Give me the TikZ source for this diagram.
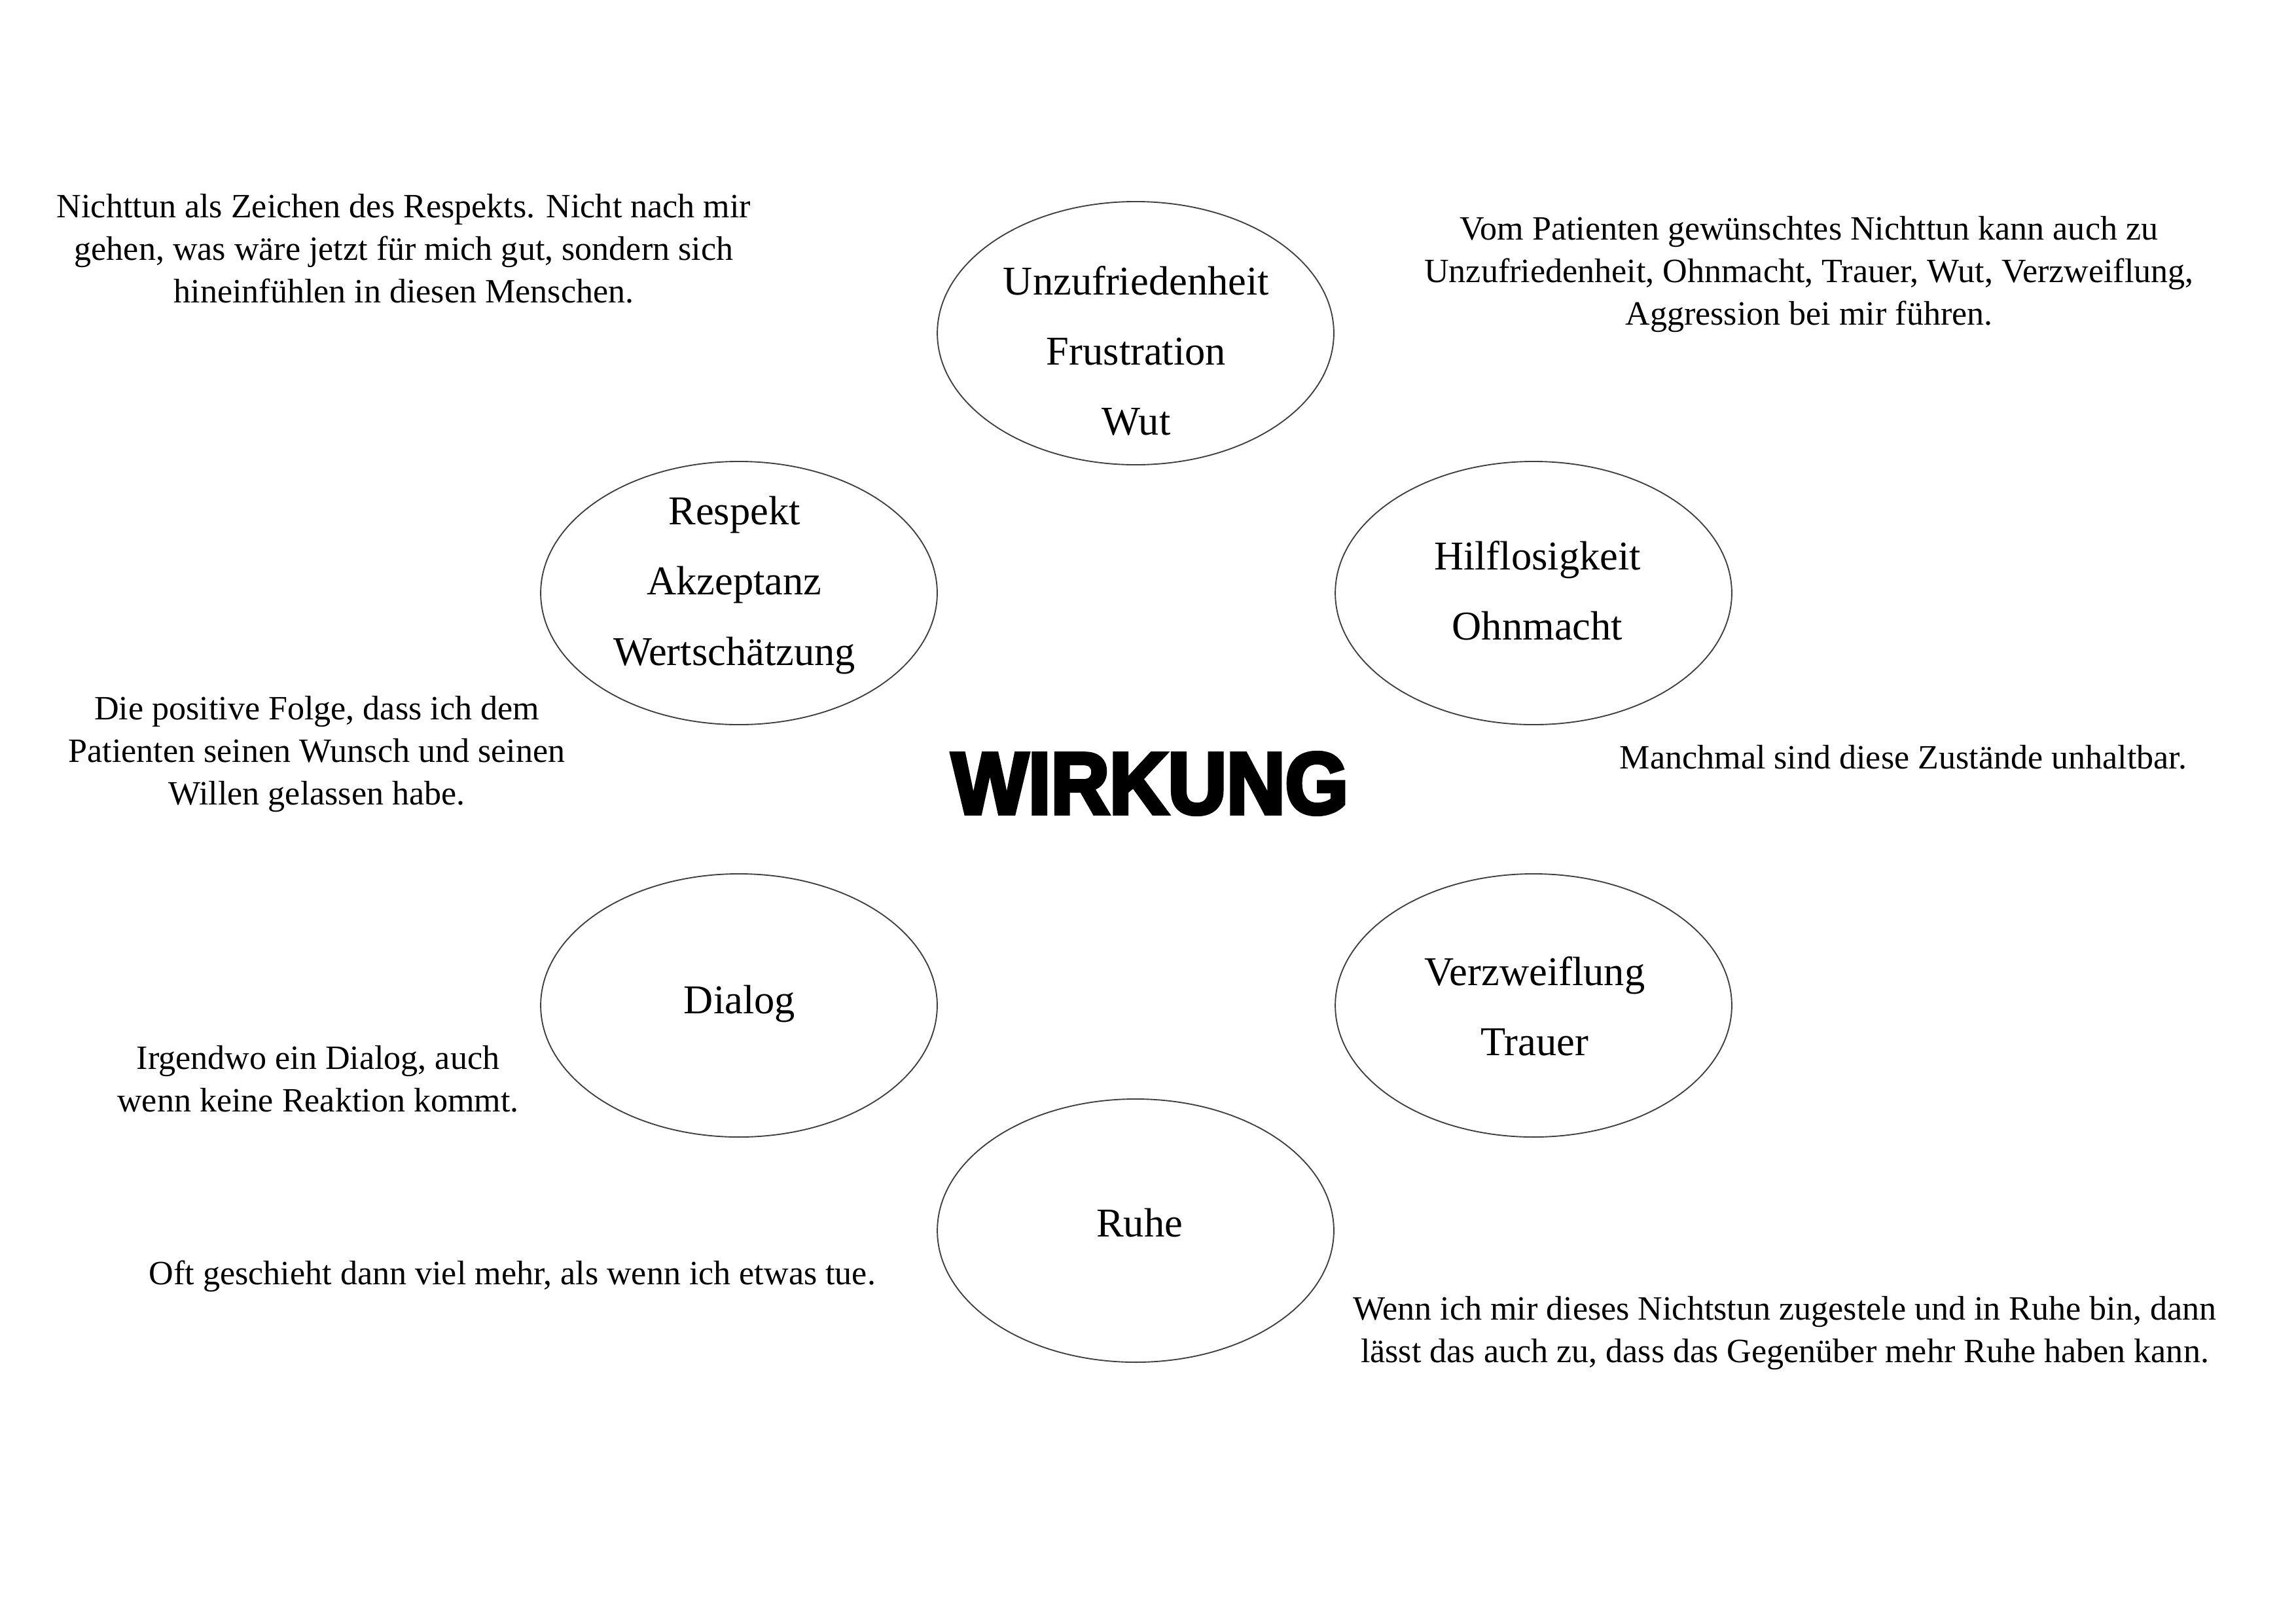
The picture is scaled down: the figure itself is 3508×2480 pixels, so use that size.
\documentclass[tikz,border=0pt]{standalone}
\usepackage{fontspec}
\setmainfont{Liberation Serif}
\newfontfamily\wirkfont[FakeStretch=0.93,FakeBold=4.5]{Liberation Sans Bold}
\usetikzlibrary{shapes.geometric}
\tikzset{
  bubble/.style={ellipse, draw=black!75, line width=0.45pt,
    minimum width=145.4pt, minimum height=96.5pt, inner sep=0pt},
  bubbletext/.style={align=center, inner sep=0pt,
    font=\fontsize{15}{25.7}\selectfont},
  note/.style={align=center, inner sep=0pt,
    font=\fontsize{12.5}{15.6}\selectfont},
  title/.style={inner sep=0pt, font=\wirkfont\fontsize{32}{34}\selectfont}
}
\begin{document}
\begin{tikzpicture}[x=0.24pt,y=-0.24pt]
\fill[white] (0,0) rectangle (3508,2480);
\useasboundingbox (0,0) rectangle (3508,2480);

% ellipses
\node[bubble] (e1) at (1735,509) {};
\node[bubble] (e2) at (1129,906) {};
\node[bubble] (e3) at (2343,906) {};
\node[bubble] (e4) at (1129,1536) {};
\node[bubble] (e5) at (2343,1536) {};
\node[bubble] (e6) at (1735,1880) {};

% ellipse texts
\node[bubbletext] (t1) at (1736,536) {Unzufriedenheit\\Frustration\\Wut};
\node[bubbletext] (t2) at (1122,894) {Respekt\\Akzeptanz\\Wertschätzung};
\node[bubbletext] (t3) at (2349,902) {Hilflosigkeit\\Ohnmacht};
\node[bubbletext] (t4) at (1130,1534) {Dialog};
\node[bubbletext] (t5) at (2345,1537) {Verzweiflung\\Trauer};
\node[bubbletext] (t6) at (1741,1868) {Ruhe};

% title
\node[title] (w) at (1757,1197) {WIRKUNG};

% notes
\node[note] (n1) at (617,380) {Nichttun als Zeichen des Respekts. Nicht nach mir\\gehen, was wäre jetzt für mich gut, sondern sich\\hineinfühlen in diesen Menschen.};
\node[note] (n2) at (2764,419) {Vom Patienten gewünschtes Nichttun kann auch zu\\Unzufriedenheit, Ohnmacht, Trauer, Wut, Verzweiflung,\\Aggression bei mir führen.};
\node[note] (n3) at (484,1152) {Die positive Folge, dass ich dem\\Patienten seinen Wunsch und seinen\\Willen gelassen habe.};
\node[note] (n4) at (2908,1157) {Manchmal sind diese Zustände unhaltbar.};
\node[note] (n5) at (486,1648) {Irgendwo ein Dialog, auch\\wenn keine Reaktion kommt.};
\node[note] (n6) at (783,1950) {Oft geschieht dann viel mehr, als wenn ich etwas tue.};
\node[note] (n7) at (2727,2037) {Wenn ich mir dieses Nichtstun zugestele und in Ruhe bin, dann\\lässt das auch zu, dass das Gegenüber mehr Ruhe haben kann.};
\end{tikzpicture}
\end{document}
